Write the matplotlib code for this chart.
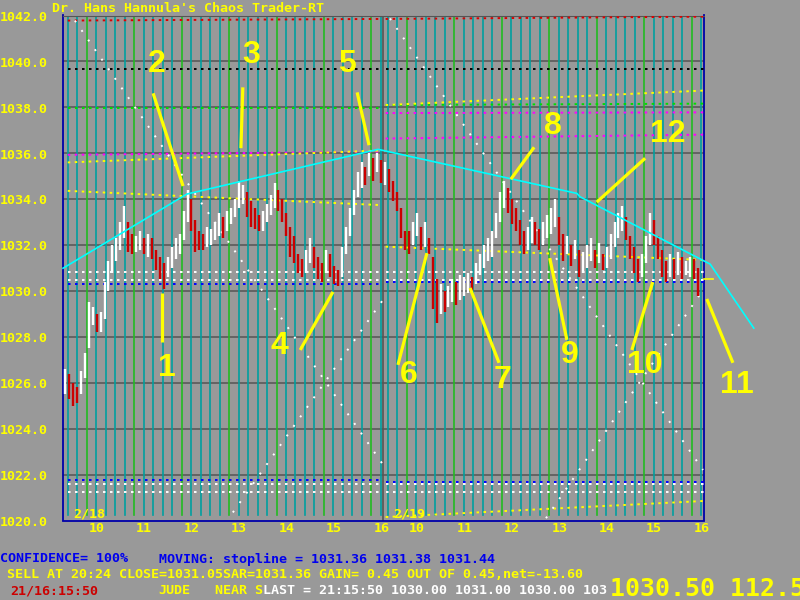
import numpy as np
import matplotlib.pyplot as plt
from matplotlib import transforms

# ---- chart values ----
price_ticks = [1020, 1022, 1024, 1026, 1028, 1030, 1032, 1034, 1036, 1038, 1040, 1042]
hour_labels = ['10', '11', '12', '13', '14', '15', '16']
dates = ['2/18', '2/19']

# 5-minute bars, session 1 (2/18) and session 2 (2/19)
day1_hi = [1026.6, 1026.4, 1026.0, 1025.8, 1026.5, 1027.3, 1029.5, 1029.3, 1029.0, 1029.1,
           1030.4, 1031.3, 1032.0, 1032.3, 1033.0, 1033.7, 1033.0, 1032.5, 1032.4, 1032.6,
           1032.3, 1032.5, 1032.3, 1031.8, 1031.5, 1031.2, 1031.5, 1031.9, 1032.3, 1032.5,
           1033.5, 1034.4, 1034.0, 1033.1, 1032.6, 1032.5, 1032.8, 1032.7, 1033.0, 1033.4,
           1033.2, 1033.5, 1033.6, 1034.0, 1034.8, 1034.6, 1034.3, 1033.9, 1033.6, 1033.3,
           1033.5, 1033.8, 1034.2, 1034.7, 1034.4, 1034.0, 1033.4, 1032.8, 1032.4, 1031.6,
           1031.4, 1031.8, 1032.3, 1031.9, 1031.5, 1031.2, 1031.8, 1031.6, 1031.1, 1030.9,
           1031.9, 1032.8, 1033.6, 1034.4, 1035.2, 1035.6, 1035.4, 1036.0, 1035.8, 1036.0, 1035.7]
day1_lo = [1025.5, 1025.3, 1025.0, 1025.1, 1025.5, 1026.2, 1027.5, 1028.5, 1028.2, 1028.2,
           1028.8, 1030.0, 1030.8, 1031.3, 1031.8, 1032.3, 1031.7, 1031.6, 1031.7, 1031.8,
           1031.6, 1031.5, 1031.4, 1030.9, 1030.5, 1030.1, 1030.6, 1031.0, 1031.4, 1031.6,
           1032.2, 1033.0, 1032.6, 1031.7, 1031.8, 1031.8, 1031.9, 1032.0, 1032.2, 1032.4,
           1032.3, 1032.6, 1032.9, 1033.2, 1033.6, 1033.8, 1033.2, 1032.8, 1032.7, 1032.6,
           1032.6, 1033.0, 1033.3, 1033.6, 1033.5, 1033.0, 1032.4, 1031.5, 1031.2, 1030.8,
           1030.6, 1030.8, 1031.2, 1031.0, 1030.5, 1030.4, 1030.8, 1030.6, 1030.3, 1030.2,
           1030.6, 1031.6, 1032.4, 1033.3, 1034.1, 1034.5, 1034.6, 1035.0, 1034.8, 1035.2, 1034.7]
day2_hi = [1035.6, 1035.3, 1034.8, 1034.3, 1033.6, 1032.6, 1032.6, 1033.0, 1033.4, 1032.8,
           1033.0, 1032.3, 1031.5, 1030.5, 1030.3, 1030.0, 1030.2, 1030.5, 1030.4, 1030.7,
           1030.6, 1030.8, 1030.6, 1031.2, 1031.6, 1032.0, 1032.3, 1032.6, 1033.4, 1034.3,
           1034.8, 1034.5, 1034.0, 1033.6, 1033.1, 1032.6, 1032.8, 1033.2, 1033.0, 1032.7,
           1033.0, 1033.3, 1033.6, 1034.0, 1033.2, 1032.5, 1032.4, 1032.0, 1032.2, 1031.8,
           1031.7, 1032.0, 1032.3, 1031.8, 1032.1, 1031.6, 1031.9, 1032.5, 1033.0, 1033.4,
           1033.7, 1033.2, 1032.4, 1031.9, 1031.4, 1031.6, 1032.4, 1033.4, 1033.1, 1032.4,
           1031.8, 1031.3, 1031.6, 1031.4, 1031.7, 1031.5, 1031.3, 1031.5, 1031.4, 1031.0]
day2_lo = [1034.6, 1034.3, 1033.9, 1033.5, 1032.3, 1031.8, 1031.6, 1032.0, 1032.4, 1031.8,
           1031.9, 1031.6, 1029.2, 1028.6, 1029.0, 1029.1, 1029.3, 1029.5, 1029.4, 1029.6,
           1029.8, 1029.9, 1030.0, 1030.3, 1030.7, 1031.0, 1031.3, 1031.5, 1032.3, 1033.0,
           1033.6, 1033.4, 1032.9, 1032.6, 1032.0, 1031.6, 1031.8, 1032.1, 1032.0, 1031.8,
           1032.0, 1032.3, 1032.5, 1032.8, 1032.0, 1031.3, 1031.6, 1031.1, 1031.4, 1030.6,
           1030.8, 1031.0, 1031.3, 1031.0, 1031.2, 1030.9, 1031.0, 1031.4, 1031.9, 1032.3,
           1032.6, 1032.2, 1031.4, 1030.8, 1030.4, 1030.6, 1031.2, 1032.0, 1032.0, 1031.4,
           1030.6, 1030.4, 1030.6, 1030.5, 1030.7, 1030.5, 1030.7, 1030.6, 1030.5, 1029.8]

# dotted level lines: start / end price per session
d1_start = [1041.78, 1039.68, 1037.97, 1035.93, 1035.60, 1034.36, 1030.81, 1030.46, 1030.29, 1021.77, 1021.60, 1021.25]
d1_end   = [1041.85, 1039.68, 1037.97, 1036.07, 1036.12, 1033.74, 1030.81, 1030.46, 1030.29, 1021.77, 1021.60, 1021.25]
d1_color = ['#dd0000', 'black', '#00dd00', '#ff00ff', '#ffff00', '#ffff00', 'white', 'white', '#0000ff', '#0000ff', 'white', 'white']
d2_start = [1041.85, 1039.68, 1038.10, 1038.10, 1037.75, 1036.64, 1031.93, 1030.81, 1030.48, 1030.38, 1021.68, 1021.60, 1021.25, 1020.15]
d2_end   = [1041.95, 1039.68, 1038.16, 1038.73, 1037.78, 1036.81, 1031.35, 1030.81, 1030.48, 1030.38, 1021.68, 1021.60, 1021.25, 1020.85]
d2_color = ['#dd0000', 'black', '#00dd00', '#ffff00', '#ff00ff', '#ff00ff', '#ffff00', 'white', 'white', '#0000ff', '#0000ff', 'white', 'white', '#ffff00']

# white time/price diagonals (x in hours since 9:30 on 2/18, session gap removed)
diag_x0 = [0.25, 3.58, 6.89, 10.18]
diag_p0 = [1041.78, 1020.35, 1041.87, 1020.10]
diag_x1 = [6.79, 6.74, 13.49, 13.49]
diag_p1 = [1022.30, 1029.60, 1022.20, 1030.04]

# cyan trend line
trend_x = [0.0, 2.61, 6.64, 10.83, 10.90, 13.64, 14.56]
trend_p = [1030.99, 1034.22, 1036.17, 1034.25, 1034.10, 1031.17, 1028.38]

# wave counts: label, text pos, pointer start, pointer end
wave_labels = ['1', '2', '3', '4', '5', '6', '7', '8', '9', '10', '11', '12']
wave_text = [(2.19, 1026.65), (1.98, 1039.90), (3.96, 1040.26), (4.57, 1027.60),
             (5.99, 1039.87), (7.29, 1026.35), (9.27, 1026.13), (10.33, 1037.20),
             (10.69, 1027.22), (12.27, 1026.78), (14.20, 1025.90), (12.75, 1036.83)]
wave_from = [(2.09, 1029.91), (1.90, 1038.61), (3.79, 1038.87), (5.00, 1027.43),
             (6.20, 1038.65), (7.06, 1026.78), (8.58, 1030.13), (9.93, 1036.26),
             (10.26, 1031.43), (12.43, 1030.39), (13.57, 1029.65), (12.27, 1035.78)]
wave_to = [(2.09, 1027.78), (2.53, 1034.57), (3.75, 1036.22), (5.69, 1029.96),
           (6.45, 1036.35), (7.67, 1031.65), (9.19, 1026.87), (9.44, 1034.87),
           (10.62, 1027.87), (11.99, 1027.43), (14.12, 1026.87), (11.25, 1033.87)]
sar_level = 1030.5

SESSION = 6.75  # hours from 9:30 to 16:15
BAR = 5 / 60.0

BG = '#999999'
GRID = '#555555'
TEAL = '#00a0a0'
GREEN = '#22bb22'
AXBLUE = '#0000aa'
YEL = '#ffff00'
MONO = 'DejaVu Sans Mono'

fig = plt.figure(figsize=(8, 6), dpi=100, facecolor=BG)
ax = fig.add_axes([63 / 800, 1 - 520.5 / 600, 640.5 / 800, 505 / 600])
ax.set_facecolor(BG)
ax.set_xlim(0, 2 * SESSION)
ax.set_ylim(1020, 1042)
ax.set_xticks([])
ax.set_yticks([])
for s in ['left', 'bottom', 'right']:
    ax.spines[s].set_color(AXBLUE)
    ax.spines[s].set_linewidth(1.3)
ax.spines['top'].set_color(GRID)

for p in price_ticks[1:-1]:
    ax.axhline(p, color=GRID, lw=1.1, zorder=1)

# 12-minute cycle lines, green on the hour
for d in range(2):
    for k in range(34):
        t = 0.1 + 0.2 * k
        on_hour = abs((t - 0.5) % 1.0) < 1e-6 or abs((t - 0.5) % 1.0 - 1) < 1e-6
        ax.axvline(d * SESSION + t, ymin=0.01, color=GREEN if on_hour else TEAL,
                   lw=1.2, zorder=2)
ax.axvline(SESSION, color=GRID, lw=1.2, zorder=2)

ls_dot = (0, (1.3, 2.3))
for p0, p1, c in zip(d1_start, d1_end, d1_color):
    ax.plot([0.1, SESSION - 0.05], [p0, p1], color=c, lw=1.4, ls=ls_dot, zorder=3)
for p0, p1, c in zip(d2_start, d2_end, d2_color):
    ax.plot([SESSION + 0.05, 2 * SESSION], [p0, p1], color=c, lw=1.4, ls=ls_dot, zorder=3)

for x0, p0, x1, p1 in zip(diag_x0, diag_p0, diag_x1, diag_p1):
    ax.plot([x0, x1], [p0, p1], color='white', lw=1.4, ls=(0, (1, 5)), zorder=3)

ax.plot(trend_x, trend_p, color='#00ffff', lw=1.2, zorder=5, clip_on=False)

# price bars
for d, (hi, lo) in enumerate([(day1_hi, day1_lo), (day2_hi, day2_lo)]):
    hi = np.array(hi)
    lo = np.array(lo)
    x = d * SESSION + (np.arange(len(hi)) + 0.5) * BAR
    mid = (hi + lo) / 2
    prev = np.concatenate([[mid[0]], mid[:-1]])
    cols = ['white' if m >= q else '#cc0000' for m, q in zip(mid, prev)]
    ax.vlines(x, lo, hi, colors=cols, lw=1.7, zorder=4)

ax.plot([2 * SESSION, 2 * SESSION + 0.19], [sar_level, sar_level], color=YEL,
        lw=1.2, clip_on=False, zorder=6)

for lab, (tx, tp), (fx, fp), (ex, ep) in zip(wave_labels, wave_text, wave_from, wave_to):
    ax.plot([fx, ex], [fp, ep], color=YEL, lw=2.3, solid_capstyle='butt',
            clip_on=False, zorder=7)
    ax.text(tx, tp, lab, color=YEL, fontsize=23, fontweight='bold',
            family='Liberation Sans', ha='center', va='center', zorder=8)

# axis labels
ytrans = transforms.blended_transform_factory(fig.transFigure, ax.transData)
for p in price_ticks:
    ax.text(0.0, p - 0.08, f'{p:.1f}', transform=ytrans, color=YEL, family=MONO,
            fontweight='bold', fontsize=9.6, ha='left', va='center')
xtrans = transforms.blended_transform_factory(ax.transData, fig.transFigure)
for d in range(2):
    for i, h in enumerate(hour_labels):
        ax.text(d * SESSION + 0.5 + i + 0.21, 1 - 528.5 / 600, h, transform=xtrans,
                color=YEL, family=MONO, fontweight='bold', fontsize=9.6,
                ha='center', va='center')
    ax.text(d * SESSION + 0.21, 1020.3, dates[d], color=YEL, family=MONO,
            fontweight='bold', fontsize=9.6, ha='left', va='center', zorder=8)


def ftext(x, y, s, color, size=9.6):
    fig.text(x / 800, 1 - y / 600, s, color=color, family=MONO, fontweight='bold',
             fontsize=size, ha='left', va='center')


ftext(52, 8, "Dr. Hans Hannula's Chaos Trader-RT", YEL)
ftext(0, 559, 'CONFIDENCE= 100%', '#0000ee')
ftext(159, 559, 'MOVING: stopline = 1031.36 1031.38 1031.44', '#0000ee')
ftext(7, 575, 'SELL AT 20:24 CLOSE=1031.05SAR=1031.36 GAIN= 0.45 OUT OF 0.45,net=-13.60', YEL)
ftext(10, 591, '21/16:15:50', '#cc0000')
ftext(158, 591, 'JUDE', YEL)
ftext(215, 591, 'NEAR S', YEL)
ftext(263, 591, 'LAST = 21:15:50 1030.00 1031.00 1030.00 103', 'white')
ftext(610, 589, '1030.50 112.5', YEL, size=18)

fig.savefig('out.png', dpi=100, facecolor=BG)
